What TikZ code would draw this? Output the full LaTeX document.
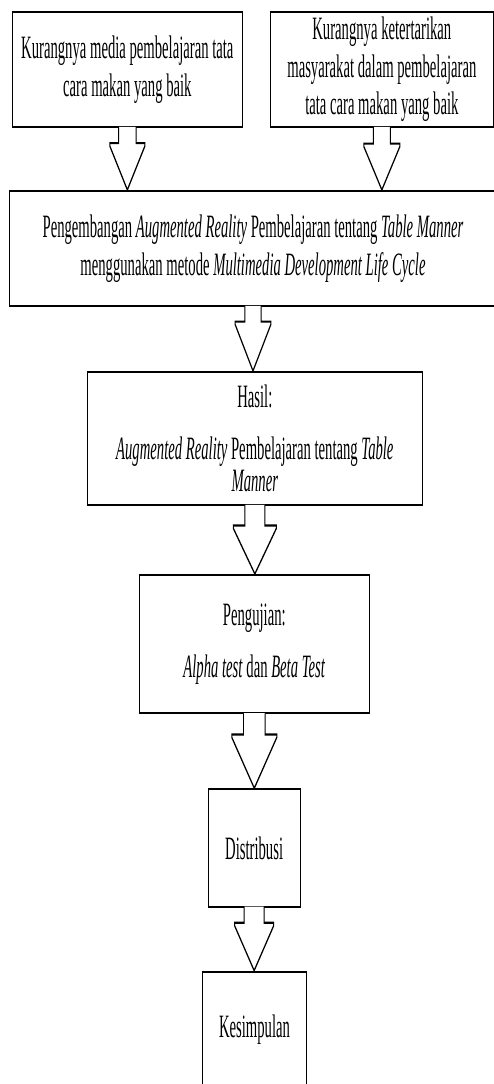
\documentclass[tikz,border=0pt]{standalone}
\usepackage{fontspec}
\setmainfont{Liberation Serif}
\usetikzlibrary{calc}
\newcommand\blockarr[5]{%
  \fill[white] ($(#1.south)+(-#3,-1.3)$) -- ($(#1.south)+(-#3,#5)$) -- ($(#1.south)+(-#4,#5)$) -- ($(#1.south)+(-#4,#5+3)$) -- (#1.south |- #2.north) -- ($(#1.south)+(#4,#5+3)$) -- ($(#1.south)+(#4,#5)$) -- ($(#1.south)+(#3,#5)$) -- ($(#1.south)+(#3,-1.3)$) -- cycle;
  \draw[barrow] ($(#1.south)+(-#3,-1.1)$) -- ($(#1.south)+(-#3,#5)$) -- ($(#1.south)+(-#4,#5)$) -- ($(#1.south)+(-#4,#5+3)$) -- (#1.south |- #2.north) -- ($(#1.south)+(#4,#5+3)$) -- ($(#1.south)+(#4,#5)$) -- ($(#1.south)+(#3,#5)$) -- ($(#1.south)+(#3,-1.1)$);}
\begin{document}
\begin{tikzpicture}[x=1pt,y=-1pt]
\useasboundingbox (0,0) rectangle (494,1084);
\clip (0,0) rectangle (494,1084);
\begin{scope}[transform canvas={xscale=0.45}, x=2.22222pt, y=-1pt,
  box/.style={draw, line width=2.2pt, fill=white, align=center, inner sep=0pt,
    font=\fontsize{32.6}{37.7}\selectfont},
  bw/.style={minimum width=#1*2.22222pt},
  bh/.style={minimum height=#1*1pt},
  barrow/.style={draw, line width=2.2pt, line join=miter}]
\node[box, bw=229.3, bh=115] (b1) at (127.35,69.5) {Kurangnya media pembelajaran tata\\cara makan yang baik};
\node[box, bw=222.3, bh=115] (b2) at (381.85,69.5) {Kurangnya ketertarikan\\masyarakat dalam pembelajaran\\tata cara makan yang baik};
\node[box, bw=488, bh=115] (b3) at (253,248.5) {Pengembangan \textit{Augmented Reality} Pembelajaran tentang \textit{Table Manner}\\menggunakan metode \textit{Multimedia Development Life Cycle}};
\node[box, bw=335.7, bh=133] (b4) at (254.85,438.5) {Hasil:\\[14pt]\textit{Augmented Reality} Pembelajaran tentang \textit{Table}\\[-6pt]\textit{Manner}};
\node[box, bw=230, bh=138.3] (b5) at (254.3,644.15) {Pengujian:\\[14pt]\textit{Alpha test} dan \textit{Beta Test}};
\node[box, bw=91.7, bh=117.4] (b6) at (254.15,848) {Distribusi};
\node[box, bw=104.4, bh=116.6] (b7) at (254.5,1030) {Kesimpulan};
\blockarr{b1}{b3}{8.7}{17.5}{15}
\blockarr{b2}{b3}{8.5}{18}{15.5}
\blockarr{b3}{b4}{8.2}{17.8}{14.5}
\blockarr{b4}{b5}{10}{21.5}{19.3}
\blockarr{b5}{b6}{10.8}{22.5}{20}
\blockarr{b6}{b7}{10}{19.5}{15}
\end{scope}
\end{tikzpicture}
\end{document}
